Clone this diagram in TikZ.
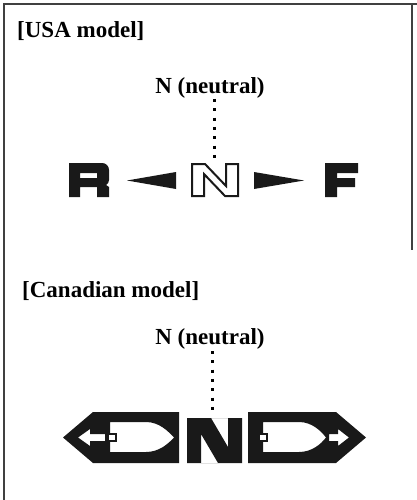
\documentclass[tikz,border=0pt]{standalone}
\usepackage{fontspec}
\setmainfont{Liberation Serif}
\begin{document}
\begin{tikzpicture}[x=1pt,y=-1pt,
  lbl/.style={font=\fontsize{23}{26}\selectfont\bfseries, inner sep=0pt},
  frameline/.style={draw=black!75, line width=1.5pt},
  dotline/.style={draw=black, line width=3pt, dash pattern=on 3pt off 6.3pt},
  ink/.style={fill=black!90, draw=none},
  keybox/.style={fill=white, draw=black!90, line width=1.5pt}]
\useasboundingbox (0,0) rectangle (417,500);
% frame
\draw[frameline] (4,500) -- (4,4) -- (417,4);
\draw[frameline] (412,4) -- (412,250);
% ---------- USA ----------
\node[lbl, anchor=base west] (usa) at (17,38) {[USA model]};
\node[lbl, anchor=base] (neu1) at (210,94) {N (neutral)};
\coordinate (d1a) at (214,99);
\coordinate (d1b) at (214,158);
\draw[dotline] (d1a) -- (d1b);
% R
\fill[ink, even odd rule]
  (69,163) -- (102,163) .. controls (106,163) and (109,166) .. (109,170)
  -- (109,180) .. controls (109,182) and (108,184) .. (106,185) -- (109,187)
  -- (109,197) -- (97,197) -- (97,187) -- (80,187) -- (80,197) -- (69,197) -- cycle
  (80,173) -- (97,173) -- (97,178) -- (80,178) -- cycle;
% arrows
\fill[ink] (127,180.5) -- (176,172) -- (176,189) -- cycle;
\fill[ink] (304,180.5) -- (254,172) -- (254,189) -- cycle;
% outlined N
\draw[fill=white, draw=black!90, line width=2pt, line join=miter]
  (192,164) -- (205,164) -- (226,186) -- (226,164) -- (238,164)
  -- (238,196) -- (225,196) -- (204,174) -- (204,196) -- (192,196) -- cycle;
% F
\fill[ink]
  (325,163) -- (358,163) -- (358,173) -- (337,173) -- (337,178) -- (355,178)
  -- (355,187) -- (337,187) -- (337,197) -- (325,197) -- cycle;
% ---------- Canada ----------
\node[lbl, anchor=base west] (can) at (22,297) {[Canadian model]};
\node[lbl, anchor=base] (neu2) at (210,344) {N (neutral)};
\coordinate (d2a) at (212,351);
\coordinate (d2b) at (212,410);
\draw[dotline] (d2a) -- (d2b);
% left shape
\fill[ink, even odd rule]
  (63,437.5) -- (93,412) -- (179,412) -- (179,463) -- (93,463) -- cycle
  (78,437.5) -- (90,429) -- (90,434) -- (105,434) -- (105,441) -- (90,441) -- (90,446) -- cycle
  (110,422) -- (146,422) .. controls (159,422) and (168,431) .. (174,437.5)
  .. controls (168,444) and (159,452) .. (146,452) -- (110,452) -- cycle;
\draw[keybox] (108,434) rectangle (116,441);
% middle N
\fill[ink, even odd rule]
  (187,418) -- (242,418) -- (242,463) -- (187,463) -- cycle
  (211,418) -- (228,418) -- (228,447) -- cycle
  (201,434) -- (218,463) -- (201,463) -- cycle;
% right shape
\fill[ink, even odd rule]
  (248,412) -- (336,412) -- (366,437.5) -- (336,463) -- (248,463) -- cycle
  (263,422) -- (299,422) .. controls (312,422) and (321,431) .. (326,437.5)
  .. controls (321,444) and (312,452) .. (299,452) -- (263,452) -- cycle
  (349,437.5) -- (338,429) -- (338,434) -- (329,434) -- (329,441) -- (338,441) -- (338,446) -- cycle;
\draw[keybox] (259,434) rectangle (267,441);
\end{tikzpicture}
\end{document}
